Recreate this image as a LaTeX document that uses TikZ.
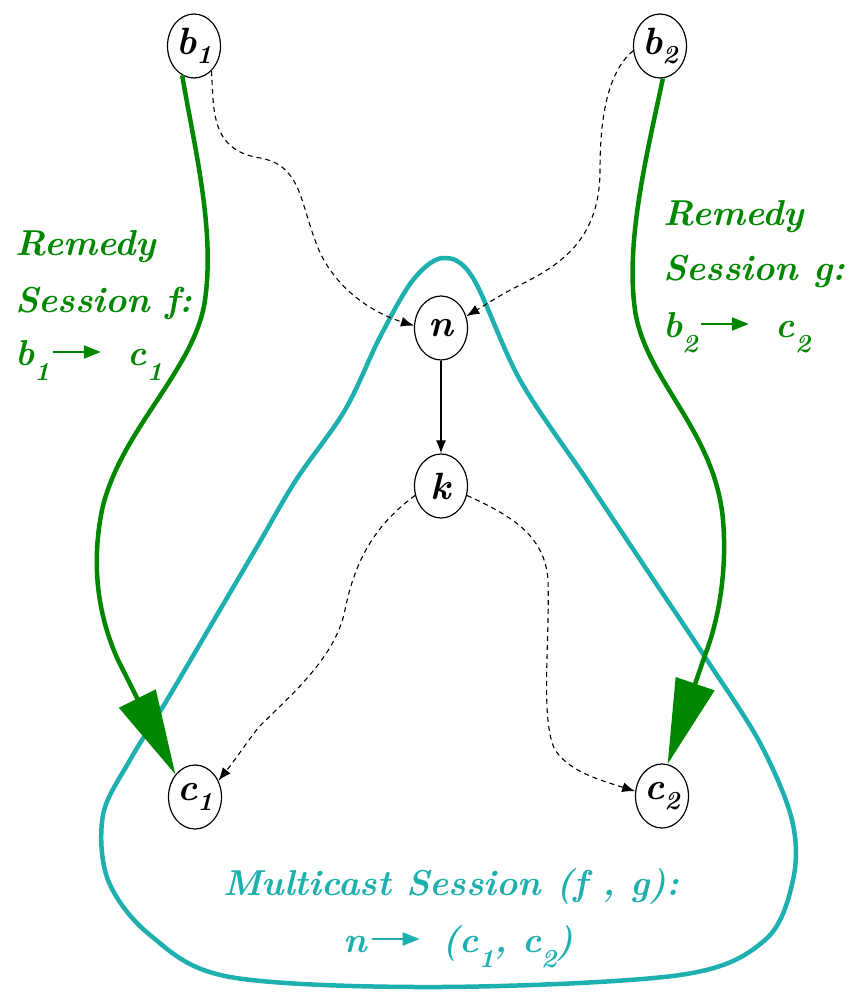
\documentclass[tikz,border=0pt]{standalone}
\usepackage{fontspec}
\usetikzlibrary{arrows.meta,shapes.geometric}
\definecolor{grn}{RGB}{0,135,0}
\definecolor{cyn}{RGB}{30,175,175}
\newcommand{\sbs}[1]{\raisebox{-0.42em}{\fontsize{26}{26}\selectfont #1}}
\newcommand{\sbn}[1]{\raisebox{-0.25em}{\fontsize{26}{26}\selectfont #1}}
\newcommand{\sarr}[1]{\tikz[baseline=0pt,x=1pt,y=1pt]{\draw[#1,line width=2.2pt,-{Triangle[length=17pt,width=13pt]}] (0,13)--(48,13);}}
\begin{document}
\begin{tikzpicture}[x=1pt,y=-1pt,
  vert/.style={draw, ellipse, line width=1.2pt, minimum width=53pt, minimum height=64pt, inner sep=0pt, font=\fontsize{38}{38}\selectfont\bfseries\itshape},
  gpath/.style={draw=grn, line width=4.5pt, -{Triangle[length=85pt,width=40pt]}},
  dpath/.style={draw, line width=1.1pt, dash pattern=on 5pt off 4pt, -{Latex[length=13pt,width=10pt]}},
  spath/.style={draw, line width=1.1pt, -{Latex[length=13pt,width=10pt]}},
  lab/.style={anchor=base west, inner sep=0pt, font=\fontsize{36}{36}\selectfont\bfseries\itshape},
]
\useasboundingbox (0,0) rectangle (849,993);

% multicast region
\draw[cyn, line width=4.5pt] plot[smooth cycle, tension=0.55] coordinates {
 (443,258) (473,278) (520,380) (587,480) (647,570) (707,660) (760,743) (792,820)
 (793,880) (765,940) (680,975) (440,987) (230,977) (150,935) (108,880) (103,815)
 (130,760) (167,700) (214,620) (258,545) (296,480) (345,410) (380,337) (413,280)};

% nodes
\node[vert] (b1) at (194,46) {b\sbn{1}};
\node[vert] (b2) at (660,46) {b\sbn{2}};
\node[vert] (n) at (441,328) {n};
\node[vert] (k) at (441,486) {k};
\node[vert] (c1) at (195,797) {c\sbn{1}};
\node[vert] (c2) at (662,796) {c\sbn{2}};

% remedy sessions
\draw[gpath] (b1.-112) .. controls (195,150) and (215,230) .. (205,300)
  .. controls (195,370) and (120,430) .. (102,510)
  .. controls (90,570) and (100,620) .. (118,660) -- (c1.131);
\draw[gpath] (b2.-85) .. controls (648,150) and (625,240) .. (635,310)
  .. controls (645,380) and (715,430) .. (723,520)
  .. controls (728,580) and (715,630) .. (705,655) -- (c2.80);

% dashed paths
\draw[dpath] (b1.-55) .. controls (214,110) and (210,150) .. (260,158)
  .. controls (300,165) and (300,200) .. (315,240)
  .. controls (330,285) and (370,312) .. (n.175);
\draw[dpath] (b2.190) .. controls (610,70) and (600,110) .. (600,170)
  .. controls (600,240) and (560,265) .. (520,285)
  .. controls (500,295) and (485,305) .. (n.25);
\draw[spath] (n.south) -- (k.north);
\draw[dpath] (k.200) .. controls (375,525) and (355,560) .. (345,610)
  .. controls (335,660) and (285,700) .. (258,728)
  .. controls (245,745) and (235,760) .. (c1.35);
\draw[dpath] (k.-20) .. controls (510,515) and (545,535) .. (548,580)
  .. controls (550,640) and (540,720) .. (555,750)
  .. controls (570,772) and (600,780) .. (c2.170);

% labels
\node[lab, text=grn] (lf1) at (15,255) {Remedy};
\node[lab, text=grn] (lf2) at (15,312) {Session f:};
\node[lab, text=grn] (lf3) at (15,365) {b\sbs{1}\hspace{2pt}\sarr{grn}\hspace{26pt}c\sbs{1}};
\node[lab, text=grn] (rg1) at (663,225) {Remedy};
\node[lab, text=grn] (rg2) at (663,280) {Session g:};
\node[lab, text=grn] (rg3) at (663,337) {b\sbs{2}\hspace{2pt}\sarr{grn}\hspace{26pt}c\sbs{2}};
\node[lab, text=cyn] (ms1) at (223,895) {Multicast Session (f , g):};
\node[lab, text=cyn] (ms2) at (343,952) {n\hspace{4pt}\sarr{cyn}\hspace{22pt}(c\sbs{1}, c\sbs{2})};
\end{tikzpicture}
\end{document}
